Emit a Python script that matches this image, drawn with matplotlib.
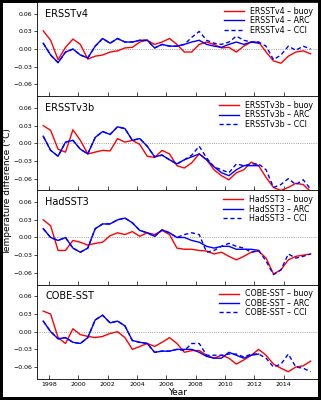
import numpy as np
import matplotlib
matplotlib.use('Agg')
import matplotlib.pyplot as plt

# sample times (decimal year), values in units of 0.01 degC
years = np.linspace(1997.6, 2015.85, 37)
n_arc = 30  # ARC record ends earlier than the others

panels = ['ERSSTv4', 'ERSSTv3b', 'HadSST3', 'COBE-SST']

ersstv4_buoy = [3.1, 1.5, -1.8, 0.3, 1.7, 0.8, -1.7, -1.2, -1.0, -0.5, -0.3, 0.2, 0.3,
                1.2, 1.5, 0.8, 1.2, 1.8, 0.8, -0.5, -0.5, 0.8, 1.2, 0.8, 0.2, 0.3,
                -0.5, 0.5, 1.2, 1.2, -0.5, -2.0, -2.4, -1.2, -0.5, -0.3, -0.8]
ersstv4_arc = [1.0, -1.0, -2.3, -0.5, 0.0, -1.0, -1.5, 0.5, 1.8, 1.0, 1.8, 1.2, 1.2,
               1.5, 1.5, 0.2, 0.8, 0.5, 0.5, 0.8, 1.2, 1.5, 0.8, 0.5, 0.3, 0.8,
               1.2, 0.8, 1.2, 1.0]
ersstv4_cci = [1.0, -1.0, -2.3, -0.5, 0.0, -1.0, -1.5, 0.5, 1.8, 1.0, 1.8, 1.2, 1.2,
               1.5, 1.5, 0.2, 0.8, 0.5, 0.5, 0.8, 2.0, 3.0, 1.5, 1.0, 0.8, 1.2,
               2.2, 1.5, 1.2, 1.2, 0.5, -1.8, -1.0, 0.5, -0.2, 0.5, 0.0]

ersstv3b_buoy = [3.0, 2.2, -1.0, -1.5, 2.3, 0.5, -1.8, -1.5, -1.2, -1.3, 0.8, 0.2, 0.5,
                 -0.2, -2.2, -2.4, -1.2, -1.8, -3.8, -4.2, -3.3, -1.8, -2.8, -4.5, -5.5, -6.2,
                 -5.0, -4.5, -3.2, -3.8, -5.8, -7.5, -8.0, -7.5, -6.8, -7.0, -8.2]
ersstv3b_arc = [1.2, -1.2, -2.2, 0.2, 0.5, -1.0, -1.8, 1.0, 2.0, 1.5, 2.8, 2.5, 0.5,
                0.8, -0.5, -2.3, -2.0, -2.8, -3.5, -2.8, -2.3, -1.8, -2.8, -4.0, -5.0, -5.5,
                -4.5, -3.8, -3.8, -3.8]
ersstv3b_cci = [1.2, -1.2, -2.2, 0.2, 0.5, -1.0, -1.8, 1.0, 2.0, 1.5, 2.8, 2.5, 0.5,
                0.8, -0.5, -2.3, -2.0, -2.8, -3.5, -2.8, -2.0, -0.5, -2.5, -4.0, -4.5, -5.0,
                -3.5, -3.8, -3.5, -3.5, -4.5, -7.5, -7.0, -6.0, -7.0, -6.2, -7.8]

hadsst3_buoy = [3.0, 2.0, -2.2, -2.2, -0.5, -0.8, -1.3, -1.0, -0.8, 0.3, 0.8, 0.5, 1.0,
                0.2, 0.8, 0.5, 1.2, 0.5, -1.8, -2.0, -2.0, -2.2, -2.3, -2.8, -2.5, -3.2,
                -3.8, -3.2, -2.5, -2.3, -3.5, -6.2, -5.5, -3.8, -3.2, -3.0, -2.8]
hadsst3_arc = [1.5, 0.0, -0.5, 0.0, -1.8, -2.5, -1.8, 1.5, 2.3, 2.3, 3.0, 3.3, 2.5,
               1.2, 0.8, 0.2, 1.3, 0.8, 0.0, 0.0, -0.5, -0.8, -1.5, -1.8, -1.5, -1.5,
               -2.0, -2.0, -2.0, -2.2]
hadsst3_cci = [1.5, 0.0, -0.5, 0.0, -1.8, -2.5, -1.8, 1.5, 2.3, 2.3, 3.0, 3.3, 2.5,
               1.2, 0.8, 0.2, 1.3, 0.8, 0.0, 0.5, 0.8, 0.5, -2.5, -2.2, -1.5, -1.0,
               -1.5, -1.8, -2.5, -2.2, -4.0, -6.3, -5.5, -2.8, -3.5, -3.2, -2.8]

cobe_buoy = [3.5, 3.0, -1.0, -2.0, 0.5, -0.5, -0.8, -1.0, -0.8, -0.3, 0.0, -1.0, -3.0,
             -2.5, -2.0, -2.5, -1.8, -1.0, -2.0, -3.5, -3.2, -3.2, -4.0, -4.5, -4.0, -4.5,
             -5.5, -4.8, -4.0, -3.0, -4.0, -5.5, -6.2, -6.8, -6.0, -5.8, -5.0]
cobe_arc = [1.8, 0.0, -1.2, -1.0, -1.8, -2.0, -1.0, 2.0, 2.8, 1.5, 1.8, 1.0, -1.5,
            -1.8, -2.0, -3.5, -3.3, -3.3, -3.0, -3.0, -3.0, -3.5, -4.2, -4.5, -4.5, -3.5,
            -4.0, -4.5, -4.0, -3.8]
cobe_cci = [1.8, 0.0, -1.2, -1.0, -1.8, -2.0, -1.0, 2.0, 2.8, 1.5, 1.8, 1.0, -1.5,
            -1.8, -2.0, -3.5, -3.3, -3.3, -3.0, -3.2, -2.0, -2.0, -4.0, -4.0, -4.0, -3.8,
            -3.8, -4.3, -3.8, -3.8, -4.5, -6.0, -5.5, -3.8, -6.0, -6.2, -6.8]

series = [
    (ersstv4_buoy, ersstv4_arc, ersstv4_cci),
    (ersstv3b_buoy, ersstv3b_arc, ersstv3b_cci),
    (hadsst3_buoy, hadsst3_arc, hadsst3_cci),
    (cobe_buoy, cobe_arc, cobe_cci),
]

fig, axes = plt.subplots(4, 1, sharex=True, figsize=(3.21, 4.0), dpi=100)
fig.subplots_adjust(left=0.115, right=0.991, top=0.995, bottom=0.053, hspace=0)
fig.patch.set_edgecolor('black')
fig.patch.set_linewidth(3)

for ax, name, (buoy, arc, cci) in zip(axes, panels, series):
    ax.axhline(0, color='gray', linestyle=':', linewidth=0.6)
    ax.plot(years, np.array(buoy) / 100, color='r', linewidth=1.0, label=name + ' \u2013 buoy')
    ax.plot(years[:n_arc], np.array(arc) / 100, color='b', linewidth=1.0, label=name + ' \u2013 ARC')
    ax.plot(years, np.array(cci) / 100, color='b', linewidth=1.0, linestyle='--',
            dashes=(3, 2), label=name + ' \u2013 CCI')
    ax.set_ylim(-0.08, 0.08)
    ax.set_yticks([-0.06, -0.03, 0.0, 0.03, 0.06])
    ax.set_yticklabels(['\u22120.06', '\u22120.03', '0.00', '0.03', '0.06'])
    ax.tick_params(axis='y', labelsize=4.5, direction='out', length=2, width=0.5, pad=1)
    ax.tick_params(axis='x', labelsize=4.5, direction='in', length=3, width=0.5, pad=2)
    ax.text(0.03, 0.93, name, transform=ax.transAxes, fontsize=7, va='top', ha='left')
    ax.legend(loc='upper right', fontsize=5.7, frameon=False, handlelength=2.5,
              labelspacing=0.05, borderaxespad=0.2, handletextpad=0.8)
    for sp in ax.spines.values():
        sp.set_linewidth(0.6)

axes[-1].set_xlim(1997.17, 2016.36)
axes[-1].set_xticks(np.arange(1998, 2015, 2))
axes[-1].set_xlabel('Year', fontsize=6.5, labelpad=1)
fig.text(0.025, 0.52, 'Temperature difference (\u00b0C)', rotation=90,
         fontsize=6.5, va='center', ha='center')

fig.savefig('out.png', dpi=100)
